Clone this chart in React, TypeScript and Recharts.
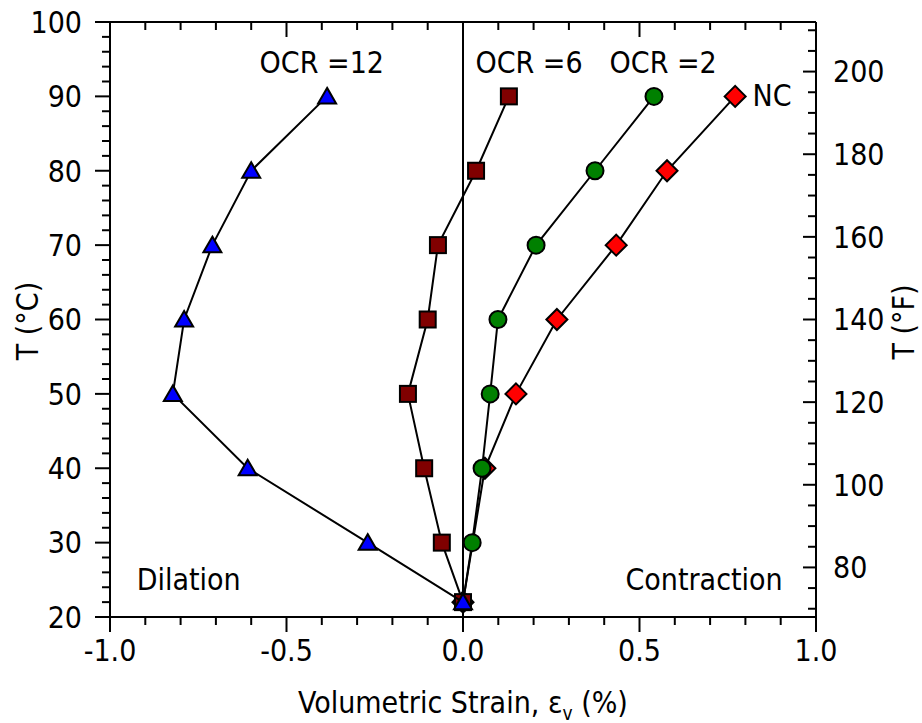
import {
  ScatterChart,
  Scatter,
  XAxis,
  YAxis,
  ReferenceLine,
  ReferenceDot,
  Label,
} from "recharts";

const FONT = '"DejaVu Sans Condensed", "DejaVu Sans", sans-serif';

// temperature (°C) and volumetric strain (%) per test series
const tempsOcr12 = [22, 30, 40, 50, 60, 70, 80, 90];
const strainOcr12 = [0, -0.27, -0.61, -0.822, -0.79, -0.71, -0.6, -0.385];

const tempsOcr6 = [22, 30, 40, 50, 60, 70, 80, 90];
const strainOcr6 = [0, -0.06, -0.11, -0.156, -0.1, -0.071, 0.037, 0.13];

const tempsOcr2 = [22, 30, 40, 50, 60, 70, 80, 90];
const strainOcr2 = [0, 0.026, 0.054, 0.077, 0.099, 0.207, 0.374, 0.541];

const tempsNC = [22, 40, 50, 60, 70, 80, 90];
const strainNC = [0, 0.062, 0.15, 0.266, 0.434, 0.578, 0.771];

const strainTicks = [
  -1, -0.9, -0.8, -0.7, -0.6, -0.5, -0.4, -0.3, -0.2, -0.1, 0, 0.1, 0.2, 0.3,
  0.4, 0.5, 0.6, 0.7, 0.8, 0.9, 1,
];
const celsiusTicks = [
  20, 22, 24, 26, 28, 30, 32, 34, 36, 38, 40, 42, 44, 46, 48, 50, 52, 54, 56,
  58, 60, 62, 64, 66, 68, 70, 72, 74, 76, 78, 80, 82, 84, 86, 88, 90, 92, 94,
  96, 98, 100,
];
const fahrenheitTicks = [
  70, 75, 80, 85, 90, 95, 100, 105, 110, 115, 120, 125, 130, 135, 140, 145,
  150, 155, 160, 165, 170, 175, 180, 185, 190, 195, 200, 205, 210,
];
const fahrenheitLabels = [80, 100, 120, 140, 160, 180, 200];

// corners of the °F axis, so recharts builds its ticks
const strainRange = [-1, 1];
const fahrenheitRange = [68, 212];

const notes = [
  { text: "OCR =12", x: -0.4, y: 94.6, anchor: "middle" },
  { text: "OCR =6", x: 0.187, y: 94.6, anchor: "middle" },
  { text: "OCR =2", x: 0.567, y: 94.6, anchor: "middle" },
  { text: "NC", x: 0.82, y: 90.2, anchor: "start" },
  { text: "Dilation", x: -0.777, y: 25.1, anchor: "middle" },
  { text: "Contraction", x: 0.683, y: 25.1, anchor: "middle" },
];

const W = 922;
const H = 723;
const TOP = 22;
const X_AXIS_H = 106;
const PLOT_H = H - TOP - X_AXIS_H;

const toPoints = (xs: number[], ys: number[]) =>
  xs.map((x, i) => ({ x, y: ys[i] }));

const isMajorStrain = (v: number) => Math.abs(v * 2 - Math.round(v * 2)) < 1e-6;

const Triangle = (p: any) => (
  <polygon
    points={`${p.cx},${p.cy - 8.5} ${p.cx + 9},${p.cy + 7} ${p.cx - 9},${p.cy + 7}`}
    fill="#0000ff"
    stroke="#000"
    strokeWidth={2}
  />
);
const Square = (p: any) => (
  <rect x={p.cx - 8} y={p.cy - 8} width={16} height={16} fill="#800000" stroke="#000" strokeWidth={2} />
);
const Dot = (p: any) => (
  <circle cx={p.cx} cy={p.cy} r={8.5} fill="#008000" stroke="#000" strokeWidth={2} />
);
const Diamond = (p: any) => (
  <polygon
    points={`${p.cx},${p.cy - 10.5} ${p.cx + 10.5},${p.cy} ${p.cx},${p.cy + 10.5} ${p.cx - 10.5},${p.cy}`}
    fill="#ff0000"
    stroke="#000"
    strokeWidth={2}
  />
);
const Nothing = () => <g />;

const textStyle = { fontFamily: FONT, fontSize: 30, fill: "#000" };

// bottom axis tick: outward tick + label, plus the matching inward tick on the top frame
const BottomTick = (p: any) => {
  const v = p.payload.value;
  const major = isMajorStrain(v);
  const len = major ? 15 : 8;
  const top = p.y - PLOT_H;
  return (
    <g>
      <line x1={p.x} x2={p.x} y1={p.y} y2={p.y + len} stroke="#000" strokeWidth={2} />
      <line x1={p.x} x2={p.x} y1={top} y2={top + len} stroke="#000" strokeWidth={2} />
      {major && (
        <text x={p.x} y={p.y + 33} dy="0.36em" textAnchor="middle" style={textStyle}>
          {v.toFixed(1)}
        </text>
      )}
    </g>
  );
};

const LeftTick = (p: any) => {
  const v = p.payload.value;
  const major = v % 10 === 0;
  return (
    <g>
      <line x1={p.x - (major ? 15 : 8)} x2={p.x} y1={p.y} y2={p.y} stroke="#000" strokeWidth={2} />
      {major && (
        <text x={p.x - 28} y={p.y} dy="0.36em" textAnchor="end" style={textStyle}>
          {v}
        </text>
      )}
    </g>
  );
};

const RightTick = (p: any) => {
  const v = p.payload.value;
  const major = v % 20 === 0;
  return (
    <g>
      <line x1={p.x - (major ? 13 : 8)} x2={p.x} y1={p.y} y2={p.y} stroke="#000" strokeWidth={2} />
      {fahrenheitLabels.includes(v) && (
        <text x={p.x + 17} y={p.y} dy="0.36em" textAnchor="start" style={textStyle}>
          {v}
        </text>
      )}
    </g>
  );
};

const axisLine = { stroke: "#000", strokeWidth: 2 };

export default function App() {
  return (
    <div style={{ position: "fixed", left: 0, top: 0, width: W, height: H, background: "#fff" }}>
      <ScatterChart width={W} height={H} margin={{ top: TOP, right: 0, bottom: 0, left: 0 }}>
        <XAxis
          xAxisId="b"
          type="number"
          dataKey="x"
          domain={[-1, 1]}
          ticks={strainTicks}
          interval={0}
          tickSize={0}
          tickMargin={0}
          tick={<BottomTick />}
          axisLine={axisLine}
          height={X_AXIS_H}
        >
          <Label
            content={() => (
              <text x={463} y={713} textAnchor="middle" style={textStyle}>
                Volumetric Strain, ε
                <tspan dy={7} fontSize={19}>v</tspan>
                <tspan dy={-7}> (%)</tspan>
              </text>
            )}
          />
        </XAxis>
        <YAxis
          yAxisId="c"
          type="number"
          dataKey="y"
          domain={[20, 100]}
          ticks={celsiusTicks}
          interval={0}
          tickSize={0}
          tickMargin={0}
          tick={<LeftTick />}
          axisLine={axisLine}
          width={110}
        >
          <Label
            content={() => (
              <text x={27} y={321} dy="0.36em" textAnchor="middle" transform="rotate(-90 27 321)" style={textStyle}>
                T (°C)
              </text>
            )}
          />
        </YAxis>
        <YAxis
          yAxisId="f"
          orientation="right"
          type="number"
          dataKey="y"
          domain={[68, 212]}
          ticks={fahrenheitTicks}
          interval={0}
          tickSize={0}
          tickMargin={0}
          tick={<RightTick />}
          axisLine={axisLine}
          width={106}
        >
          <Label
            content={() => (
              <text x={903} y={322} dy="0.36em" textAnchor="middle" transform="rotate(-90 903 322)" style={textStyle}>
                T (°F)
              </text>
            )}
          />
        </YAxis>
        <Scatter
          data={toPoints(strainRange, fahrenheitRange)}
          xAxisId="b"
          yAxisId="f"
          shape={Nothing}
          isAnimationActive={false}
        />
        <ReferenceLine y={100} xAxisId="b" yAxisId="c" stroke="#000" strokeWidth={2} />
        <ReferenceLine x={0} xAxisId="b" yAxisId="c" stroke="#000" strokeWidth={2} />
        <Scatter
          name="NC"
          data={toPoints(strainNC, tempsNC)}
          xAxisId="b"
          yAxisId="c"
          line={{ stroke: "#000", strokeWidth: 2 }}
          lineType="joint"
          shape={Diamond}
          isAnimationActive={false}
        />
        <Scatter
          name="OCR=2"
          data={toPoints(strainOcr2, tempsOcr2)}
          xAxisId="b"
          yAxisId="c"
          line={{ stroke: "#000", strokeWidth: 2 }}
          lineType="joint"
          shape={Dot}
          isAnimationActive={false}
        />
        <Scatter
          name="OCR=6"
          data={toPoints(strainOcr6, tempsOcr6)}
          xAxisId="b"
          yAxisId="c"
          line={{ stroke: "#000", strokeWidth: 2 }}
          lineType="joint"
          shape={Square}
          isAnimationActive={false}
        />
        <Scatter
          name="OCR=12"
          data={toPoints(strainOcr12, tempsOcr12)}
          xAxisId="b"
          yAxisId="c"
          line={{ stroke: "#000", strokeWidth: 2 }}
          lineType="joint"
          shape={Triangle}
          isAnimationActive={false}
        />
        {notes.map((n) => (
          <ReferenceDot
            key={n.text}
            x={n.x}
            y={n.y}
            xAxisId="b"
            yAxisId="c"
            r={0}
            shape={(p: any) => (
              <text x={p.cx} y={p.cy} dy="0.36em" textAnchor={n.anchor as any} style={textStyle}>
                {n.text}
              </text>
            )}
          />
        ))}
      </ScatterChart>
    </div>
  );
}
